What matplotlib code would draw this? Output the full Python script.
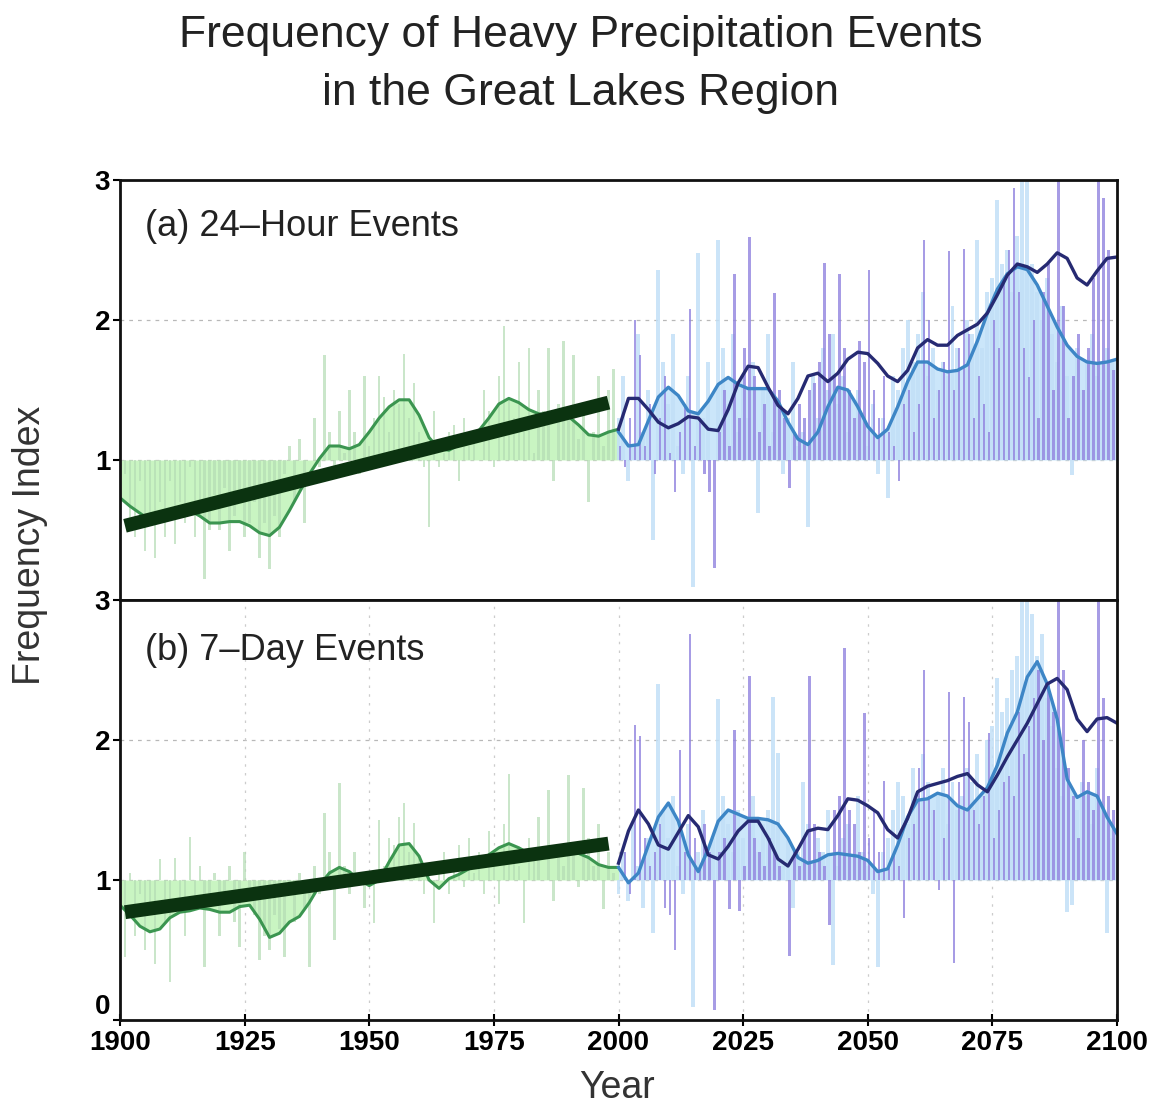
import numpy as np
import matplotlib
matplotlib.use("Agg")
import matplotlib.pyplot as plt
from matplotlib import font_manager

# narrow-ish sans to get close to the original lettering
names = {f.name for f in font_manager.fontManager.ttflist}
if "Liberation Sans Narrow" in names:
    FONT = "Liberation Sans Narrow"
elif "Liberation Sans" in names:
    FONT = "Liberation Sans"
else:
    FONT = "DejaVu Sans"
plt.rcParams["font.family"] = FONT

# ---------------- data ----------------
past_years = np.arange(1900, 2000)
future_years = np.arange(2000, 2100)
smooth_past_years = np.arange(1900, 2001, 2)
smooth_future_years = np.arange(2000, 2101, 2)

# (a) 24-hour events
obs_24h = [0.75, 0.9, 0.55, 0.45, 0.85, 0.35, 0.6, 0.3, 0.7, 0.45,
           0.85, 0.4, 0.7, 0.55, 0.95, 0.45, 0.6, 0.15, 0.5, 0.75,
           0.5, 0.8, 0.35, 0.6, 0.75, 0.45, 0.55, 0.7, 0.3, 0.55,
           0.22, 0.6, 0.45, 0.9, 1.1, 0.7, 1.15, 0.55, 1.0, 1.3,
           0.95, 1.75, 1.2, 0.9, 1.35, 1.05, 1.5, 1.2, 0.9, 1.6,
           1.1, 1.3, 1.6, 1.45, 1.2, 1.5, 1.4, 1.76, 1.3, 1.55,
           1.2, 0.95, 0.52, 1.35, 0.95, 1.05, 1.2, 1.25, 0.85, 1.3,
           1.1, 1.2, 1.0, 1.5, 1.35, 0.95, 1.6, 1.96, 1.45, 1.3,
           1.7, 1.2, 1.8, 1.05, 1.5, 1.35, 1.8, 0.85, 1.4, 1.85,
           1.3, 1.75, 1.15, 1.4, 0.7, 1.2, 1.6, 1.1, 1.5, 1.65]
modelA_24h = [1.3, 1.6, 0.85, 1.1, 1.9, 1.2, 1.5, 0.43, 2.36, 1.7,
              1.4, 1.9, 1.1, 0.9, 1.6, 0.09, 2.48, 1.3, 1.7, 1.0,
              2.57, 1.8, 1.4, 1.9, 1.2, 1.6, 1.3, 1.7, 0.62, 1.5,
              1.9, 1.2, 1.4, 0.9, 1.3, 1.7, 1.1, 1.2, 0.52, 1.6,
              1.3, 1.8, 1.5, 1.9, 1.4, 1.6, 1.2, 1.0, 1.5, 1.3,
              1.1, 1.4, 0.9, 1.3, 0.73, 1.6, 1.5, 1.8, 2.0, 1.7,
              1.9, 2.2, 1.6, 1.8, 1.5, 1.7, 1.6, 2.1, 1.8, 1.5,
              2.0, 1.9, 2.57, 1.8, 2.2, 2.3, 2.86, 2.4, 2.5, 2.2,
              2.6, 3.0, 3.0, 2.4, 2.2, 2.0, 2.3, 1.9, 1.7, 2.1,
              1.6, 0.89, 1.8, 1.5, 1.7, 1.9, 1.6, 1.5, 1.8, 1.7]
modelB_24h = [1.1, 0.95, 1.3, 2.0, 1.75, 1.1, 1.4, 0.9, 1.3, 1.6,
              1.05, 0.77, 1.2, 1.4, 2.08, 1.1, 1.3, 0.9, 0.77, 0.23,
              1.2, 1.5, 1.1, 2.33, 1.3, 1.8, 2.59, 1.6, 1.2, 1.4,
              1.1, 2.19, 1.5, 1.3, 0.8, 1.2, 1.4, 1.3, 1.5, 1.55,
              1.7, 2.41, 1.9, 1.6, 2.33, 1.8, 1.5, 1.3, 1.85, 1.7,
              2.36, 1.5, 1.3, 1.6, 1.2, 1.1, 0.85, 1.4, 1.5, 1.2,
              1.4, 2.57, 2.0, 1.3, 1.5, 1.7, 2.49, 1.5, 1.8, 2.51,
              1.9, 1.3, 1.6, 1.4, 1.2, 2.0, 1.8, 2.3, 2.5, 2.94,
              2.2, 1.8, 1.59, 2.0, 1.3, 2.2, 2.4, 1.5, 3.0, 2.1,
              1.3, 1.6, 1.9, 1.5, 1.8, 2.3, 3.0, 2.87, 2.5, 1.64]
obs_smooth_24h = [0.73, 0.67, 0.62, 0.57, 0.56, 0.58, 0.62, 0.64, 0.60, 0.55,
                  0.55, 0.56, 0.56, 0.53, 0.48, 0.46, 0.52, 0.64, 0.77, 0.90,
                  1.01, 1.10, 1.10, 1.08, 1.11, 1.20, 1.30, 1.38, 1.43, 1.43,
                  1.32, 1.16, 1.08, 1.07, 1.11, 1.16, 1.21, 1.30, 1.40, 1.44,
                  1.41, 1.36, 1.33, 1.32, 1.32, 1.31, 1.25, 1.18, 1.17, 1.20, 1.22]
modelA_smooth_24h = [1.20, 1.10, 1.11, 1.28, 1.45, 1.52, 1.46, 1.35, 1.33, 1.42,
                     1.54, 1.59, 1.54, 1.51, 1.51, 1.51, 1.42, 1.27, 1.15, 1.11,
                     1.20, 1.38, 1.52, 1.50, 1.38, 1.24, 1.16, 1.22, 1.38, 1.56,
                     1.70, 1.70, 1.65, 1.63, 1.64, 1.68, 1.85, 2.05, 2.22, 2.33,
                     2.38, 2.36, 2.25, 2.10, 1.95, 1.82, 1.74, 1.70, 1.69, 1.70, 1.72]
modelB_smooth_24h = [1.22, 1.44, 1.44, 1.36, 1.27, 1.23, 1.26, 1.31, 1.30, 1.22,
                     1.21, 1.36, 1.55, 1.67, 1.66, 1.52, 1.39, 1.33, 1.44, 1.60,
                     1.62, 1.56, 1.62, 1.72, 1.77, 1.76, 1.69, 1.60, 1.56, 1.64,
                     1.80, 1.86, 1.82, 1.82, 1.89, 1.93, 1.97, 2.05, 2.18, 2.32,
                     2.40, 2.38, 2.34, 2.40, 2.48, 2.44, 2.30, 2.25, 2.35, 2.44, 2.45]
trend_24h = [0.53, 1.41]

# (b) 7-day events
obs_7d = [0.8, 0.45, 1.05, 0.6, 0.9, 0.5, 0.75, 0.4, 1.15, 0.7,
          0.27, 1.16, 0.85, 0.6, 1.31, 0.8, 1.1, 0.38, 0.9, 1.05,
          0.6, 0.85, 1.1, 0.7, 0.52, 1.2, 0.95, 0.75, 0.43, 0.6,
          0.5, 0.75, 0.65, 0.45, 0.9, 0.7, 1.05, 0.8, 0.38, 1.1,
          0.9, 1.48, 1.2, 0.57, 1.69, 1.1, 0.9, 1.2, 1.05, 0.8,
          1.0, 0.69, 1.43, 1.1, 1.3, 1.25, 1.45, 1.55, 1.2, 1.41,
          1.15, 0.9, 1.0, 0.69, 1.05, 1.2, 0.9, 1.1, 1.25, 0.95,
          1.3, 1.05, 1.2, 0.9, 1.35, 1.1, 0.83, 1.4, 1.76, 1.2,
          1.1, 0.69, 1.3, 1.15, 1.45, 1.0, 1.64, 0.85, 1.25, 1.1,
          1.75, 1.2, 0.95, 1.66, 1.3, 1.1, 1.4, 0.79, 1.2, 1.05]
modelA_7d = [0.9, 1.2, 0.85, 1.4, 1.1, 0.8, 1.3, 0.62, 2.4, 1.5,
             1.3, 1.6, 1.1, 0.9, 1.4, 0.09, 1.2, 1.5, 1.0, 1.3,
             2.29, 1.6, 1.4, 1.2, 1.5, 1.3, 1.0, 1.6, 1.2, 1.4,
             1.5, 2.31, 1.91, 1.1, 1.3, 0.8, 1.2, 1.7, 1.4, 1.0,
             1.3, 1.2, 1.5, 0.39, 1.1, 1.3, 1.4, 1.0, 1.6, 1.2,
             1.1, 0.9, 0.38, 1.2, 1.3, 1.5, 1.7, 1.6, 1.4, 1.8,
             1.6, 1.9, 1.7, 1.5, 1.6, 1.8, 1.4, 1.7, 1.5, 1.6,
             1.8, 1.7, 1.9, 1.6, 2.0, 2.1, 2.44, 2.2, 2.3, 2.5,
             2.6, 3.0, 3.0, 2.9, 2.6, 2.76, 2.3, 2.1, 1.8, 1.6,
             0.77, 0.82, 1.5, 1.7, 1.6, 1.4, 1.8, 1.5, 0.62, 1.3]
modelB_7d = [1.0, 1.2, 0.9, 2.11, 2.03, 1.3, 1.1, 1.2, 1.4, 0.8,
             0.75, 0.5, 1.93, 1.2, 2.76, 1.3, 1.1, 1.4, 1.2, 0.07,
             1.2, 1.3, 0.79, 2.07, 0.78, 1.1, 2.46, 1.3, 1.2, 1.1,
             1.3, 1.2, 1.1, 1.0, 0.46, 1.2, 1.1, 1.3, 2.46, 1.4,
             1.2, 1.1, 0.68, 1.5, 1.6, 2.66, 1.5, 1.4, 1.2, 2.19,
             1.3, 1.5, 1.2, 1.71, 1.1, 1.2, 1.1, 0.73, 1.3, 1.4,
             1.8, 2.5, 1.6, 1.5, 0.93, 1.3, 2.34, 0.41, 1.7, 2.31,
             2.13, 1.5, 1.4, 1.6, 2.05, 1.3, 1.5, 1.7, 1.74, 1.6,
             2.2, 1.9, 2.1, 2.3, 2.5, 2.0, 2.4, 2.2, 3.0, 2.5,
             1.8, 1.6, 1.3, 2.0, 1.7, 1.5, 3.0, 2.3, 1.6, 1.5]
obs_smooth_7d = [0.82, 0.75, 0.67, 0.63, 0.65, 0.73, 0.77, 0.78, 0.80, 0.79,
                 0.77, 0.77, 0.81, 0.82, 0.72, 0.59, 0.62, 0.70, 0.74, 0.84,
                 0.96, 1.05, 1.09, 1.06, 1.00, 0.96, 1.00, 1.13, 1.25, 1.26,
                 1.17, 1.00, 0.94, 1.01, 1.04, 1.08, 1.12, 1.18, 1.23, 1.26,
                 1.23, 1.19, 1.18, 1.19, 1.19, 1.20, 1.19, 1.16, 1.11, 1.09, 1.09]
modelA_smooth_7d = [1.09, 0.98, 1.05, 1.25, 1.45, 1.55, 1.42, 1.18, 1.06, 1.22,
                    1.42, 1.50, 1.47, 1.44, 1.44, 1.43, 1.40, 1.30, 1.16, 1.12,
                    1.14, 1.18, 1.19, 1.18, 1.17, 1.14, 1.06, 1.08, 1.25, 1.45,
                    1.57, 1.58, 1.62, 1.60, 1.53, 1.50, 1.58, 1.66, 1.82, 2.05,
                    2.20, 2.45, 2.56, 2.40, 2.15, 1.72, 1.59, 1.63, 1.60, 1.45, 1.33]
modelB_smooth_7d = [1.12, 1.35, 1.50, 1.40, 1.25, 1.22, 1.34, 1.46, 1.38, 1.18,
                    1.15, 1.24, 1.35, 1.42, 1.42, 1.30, 1.15, 1.10, 1.22, 1.35,
                    1.37, 1.36, 1.46, 1.58, 1.57, 1.53, 1.48, 1.36, 1.30, 1.44,
                    1.63, 1.67, 1.69, 1.71, 1.74, 1.76, 1.68, 1.63, 1.75, 1.88,
                    2.00, 2.12, 2.26, 2.40, 2.44, 2.36, 2.15, 2.06, 2.15, 2.16, 2.12]
trend_7d = [0.77, 1.26]
trend_years = [1901, 1998]

panels = [
    ("(a) 24\u2013Hour Events", obs_24h, modelA_24h, modelB_24h,
     obs_smooth_24h, modelA_smooth_24h, modelB_smooth_24h, trend_24h),
    ("(b) 7\u2013Day Events", obs_7d, modelA_7d, modelB_7d,
     obs_smooth_7d, modelA_smooth_7d, modelB_smooth_7d, trend_7d),
]

# colours
GREEN_FILL = "#c9f5c2"
GREEN_BAR = "#b4dcb4"
GREEN_LINE = "#3b9550"
TREND = "#0b3310"
BLUE_FILL = "#cbe6fa"
BLUE_BAR = "#c2e0f7"
PURPLE_BAR = "#9183df"
BLUE_LINE = "#3d86c6"
NAVY_LINE = "#262a72"

W, H = 1161, 1109
fig = plt.figure(figsize=(W / 100, H / 100), dpi=100)
fig.patch.set_facecolor("white")

left = 120 / W
width = (1117 - 120) / W
ax_h = 420 / H
ax_top = fig.add_axes([left, 1 - 600 / H, width, ax_h])
ax_bot = fig.add_axes([left, 1 - 1020 / H, width, ax_h])

for ax, (label, obs, ma, mb, obs_s, ma_s, mb_s, trend) in zip([ax_top, ax_bot], panels):
    obs = np.array(obs)
    ma = np.array(ma)
    mb = np.array(mb)
    obs_s = np.array(obs_s)
    ma_s = np.array(ma_s)
    mb_s = np.array(mb_s)

    # shaded areas between the smoothed curves and 1
    ax.fill_between(smooth_past_years, 1, obs_s, color=GREEN_FILL, lw=0, zorder=1)
    ax.fill_between(smooth_future_years, 1, ma_s, color=BLUE_FILL, lw=0, zorder=1)

    # yearly bars from the baseline of 1
    ax.bar(past_years, obs - 1, bottom=1, width=0.5, color=GREEN_BAR,
           alpha=0.7, lw=0, zorder=2)
    ax.bar(future_years, ma - 1, bottom=1, width=0.8, color=BLUE_BAR,
           alpha=0.85, lw=0, zorder=2)
    ax.bar(future_years + 0.3, mb - 1, bottom=1, width=0.5, color=PURPLE_BAR,
           alpha=0.8, lw=0, zorder=3)

    # grid
    for yv in [1, 2]:
        ax.axhline(yv, color="#b8b8b8", lw=0.9, ls=(0, (3, 4)), zorder=0.5)
    if ax is ax_bot:
        for xv in range(1925, 2100, 25):
            ax.axvline(xv, color="#cccccc", lw=0.9, ls=(0, (2, 5)), zorder=0.5)

    # smoothed curves
    ax.plot(smooth_past_years, obs_s, color=GREEN_LINE, lw=2.2, zorder=5)
    ax.plot(smooth_future_years, ma_s, color=BLUE_LINE, lw=2.4, zorder=5)
    ax.plot(smooth_future_years, mb_s, color=NAVY_LINE, lw=2.4, zorder=6)

    # linear trend over the observed period
    ax.plot(trend_years, trend, color=TREND, lw=10, solid_capstyle="butt", zorder=7)

    ax.set_xlim(1900, 2100)
    ax.set_ylim(0, 3)
    for sp in ax.spines.values():
        sp.set_linewidth(2.0)
        sp.set_color("#111111")
        sp.set_zorder(10)

    ax.text(0.025, 0.89 if ax is ax_top else 0.88, label, transform=ax.transAxes,
            fontsize=26, color="#222222", va="center", ha="left", zorder=11)

ax_top.set_yticks([1, 2, 3])
ax_bot.set_yticks([0, 1, 2, 3])
ax_top.set_xticks([])
ax_bot.set_xticks(range(1900, 2101, 25))
for ax in [ax_top, ax_bot]:
    ax.tick_params(axis="y", direction="out", length=5, width=1.5,
                   labelsize=20, pad=2)
ax_bot.tick_params(axis="x", direction="inout", length=8, width=1.5,
                   labelsize=20, pad=3)
for t in ax_bot.get_xticklabels() + ax_bot.get_yticklabels() + ax_top.get_yticklabels():
    t.set_fontweight("bold")
# the 0 sits just above the 1900 label, as in the original
ax_bot.get_yticklabels()[0].set_verticalalignment("bottom")

fig.text(0.5, 1 - 36 / H, "Frequency of Heavy Precipitation Events",
         ha="center", va="center", fontsize=32, color="#222222")
fig.text(0.5, 1 - 93 / H, "in the Great Lakes Region",
         ha="center", va="center", fontsize=32, color="#222222")
fig.text(30 / W, 1 - 545 / H, "Frequency Index", rotation=90,
         ha="center", va="center", fontsize=27, color="#333333")
fig.text(617 / W, 1 - 1088 / H, "Year", ha="center", va="center",
         fontsize=27, color="#333333")

fig.savefig("out.png", dpi=100)
